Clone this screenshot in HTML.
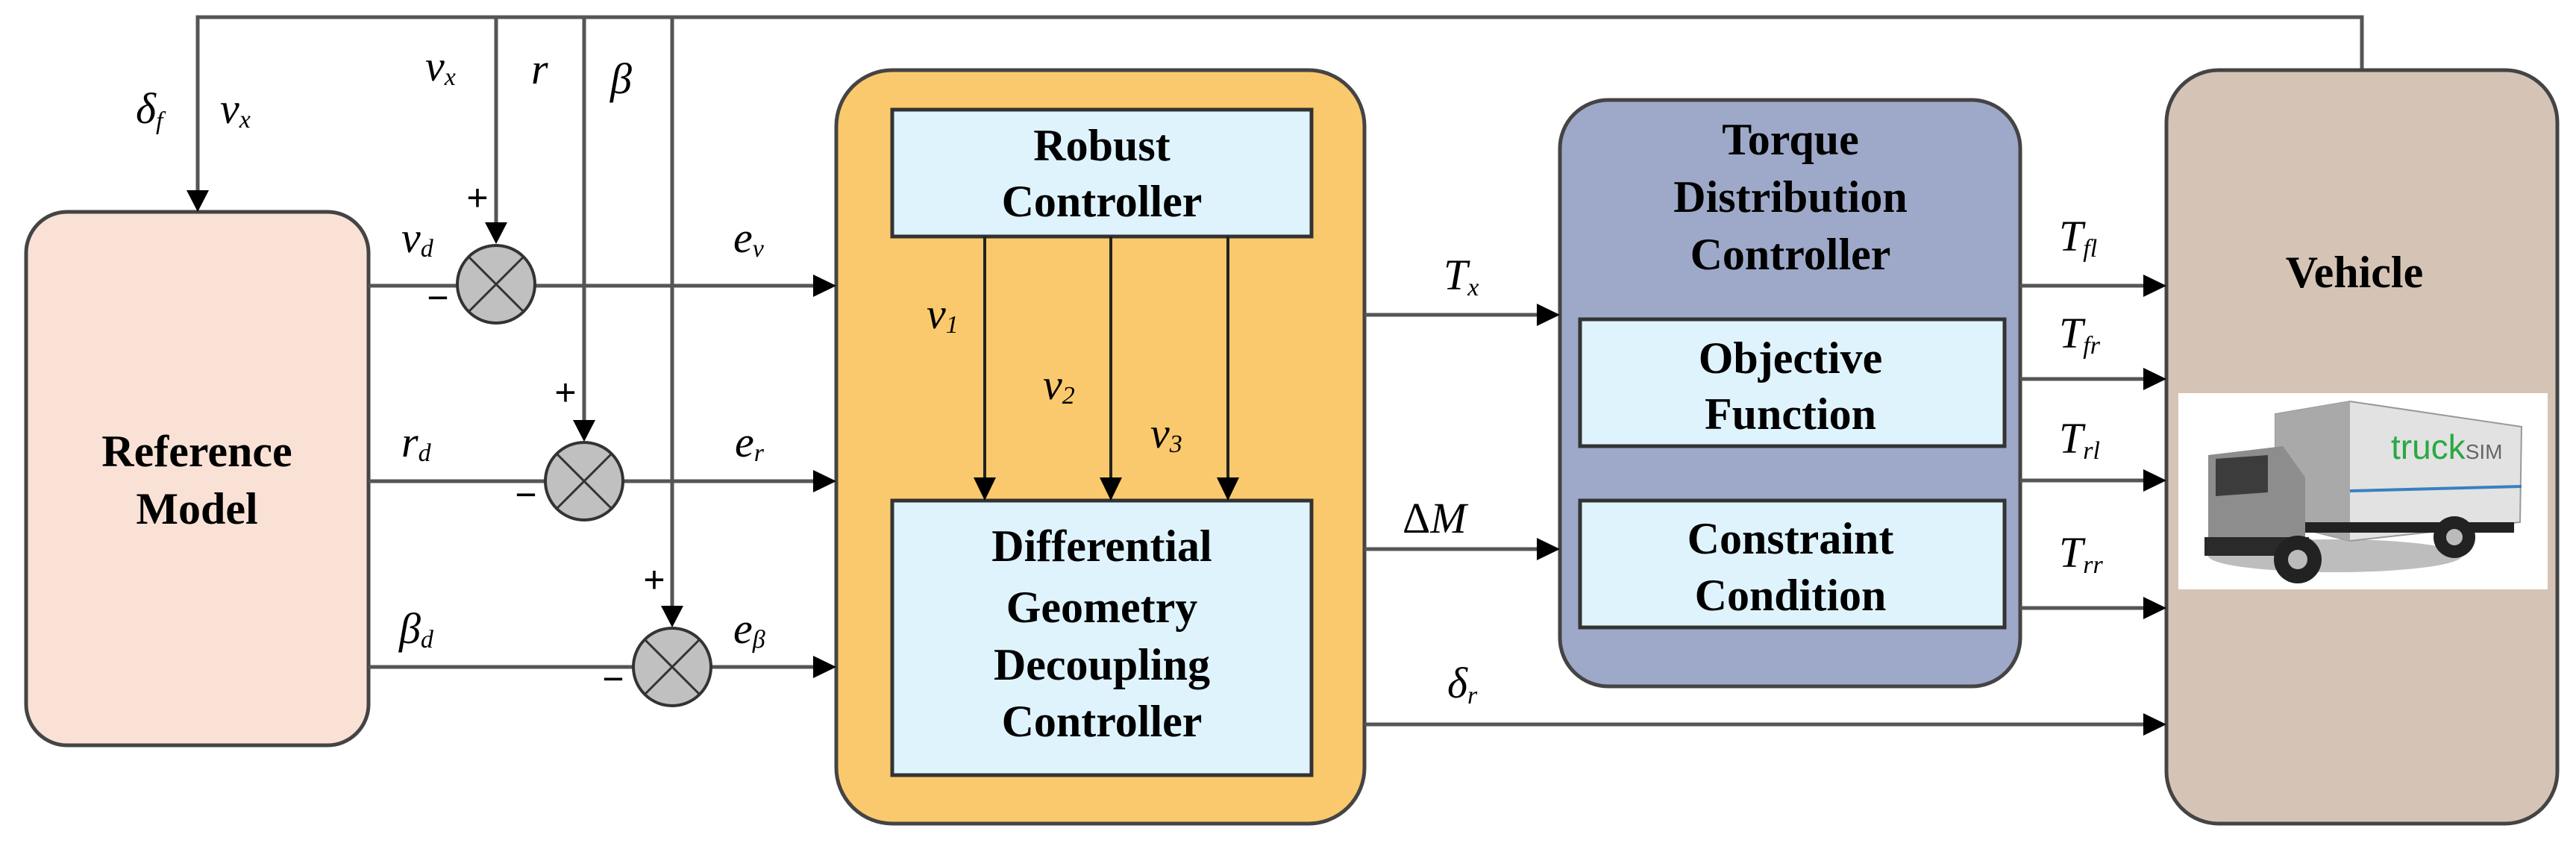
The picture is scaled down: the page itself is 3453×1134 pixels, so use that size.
<!DOCTYPE html>
<html><head><meta charset="utf-8"><style>
html,body{margin:0;padding:0;background:#fff;}
svg{display:block;}
.b{font-family:"Liberation Serif",serif;font-weight:bold;font-size:60px;fill:#000;text-anchor:middle;}
.m{font-family:"Liberation Serif",serif;font-style:italic;font-size:58px;fill:#000;}
.s{font-size:34px;}
.pm{font-family:"Liberation Sans",sans-serif;font-size:50px;fill:#000;}
</style></head><body>
<svg width="3453" height="1134" viewBox="0 0 3453 1134" xmlns="http://www.w3.org/2000/svg">
<defs>
<marker id="a" markerWidth="12" markerHeight="12" refX="11" refY="6" orient="auto" markerUnits="userSpaceOnUse" viewBox="0 0 12 12">
</marker>
</defs>
<g stroke="#555" stroke-width="5" fill="none">
<!-- top feedback line -->
<polyline points="265,270 265,23 3166,23 3166,94"/>
<line x1="665" y1="23" x2="665" y2="300"/>
<line x1="783" y1="23" x2="783" y2="565"/>
<line x1="901" y1="23" x2="901" y2="814"/>
</g>
<!-- boxes -->
<rect x="35" y="284" width="459" height="715" rx="55" fill="#fae1d6" stroke="#444" stroke-width="5"/>
<rect x="1121" y="94" width="708" height="1010" rx="75" fill="#fbc96d" stroke="#444" stroke-width="5"/>
<rect x="1196" y="147" width="562" height="170" fill="#dff3fc" stroke="#333" stroke-width="5"/>
<rect x="1196" y="671" width="562" height="368" fill="#dff3fc" stroke="#333" stroke-width="5"/>
<rect x="2091" y="134" width="617" height="786" rx="65" fill="#9ea9c9" stroke="#444" stroke-width="5"/>
<rect x="2118" y="428" width="569" height="170" fill="#dff3fc" stroke="#333" stroke-width="5"/>
<rect x="2118" y="671" width="569" height="170" fill="#dff3fc" stroke="#333" stroke-width="5"/>
<rect x="2904" y="94" width="524" height="1010" rx="70" fill="#d5c4b5" stroke="#444" stroke-width="5"/>

<!-- horizontal signal lines -->
<g stroke="#555" stroke-width="5">
<line x1="494" y1="383" x2="1090" y2="383"/>
<line x1="494" y1="645" x2="1090" y2="645"/>
<line x1="494" y1="894" x2="1090" y2="894"/>
<line x1="1829" y1="422" x2="2060" y2="422"/>
<line x1="1829" y1="736" x2="2060" y2="736"/>
<line x1="1829" y1="971" x2="2873" y2="971"/>
<line x1="2708" y1="383" x2="2873" y2="383"/>
<line x1="2708" y1="508" x2="2873" y2="508"/>
<line x1="2708" y1="644" x2="2873" y2="644"/>
<line x1="2708" y1="815" x2="2873" y2="815"/>
</g>
<g stroke="#222" stroke-width="4">
<line x1="1320" y1="317" x2="1320" y2="640"/>
<line x1="1489" y1="317" x2="1489" y2="640"/>
<line x1="1646" y1="317" x2="1646" y2="640"/>
</g>
<!-- arrowheads -->
<g fill="#000">
<polygon points="250,255 280,255 265,284"/>
<polygon points="650,298 680,298 665,327"/>
<polygon points="768,563 798,563 783,592"/>
<polygon points="886,812 916,812 901,841"/>
<polygon points="1305,640 1335,640 1320,671"/>
<polygon points="1474,640 1504,640 1489,671"/>
<polygon points="1631,640 1661,640 1646,671"/>
<polygon points="1090,368 1090,398 1121,383"/>
<polygon points="1090,630 1090,660 1121,645"/>
<polygon points="1090,879 1090,909 1121,894"/>
<polygon points="2060,407 2060,437 2091,422"/>
<polygon points="2060,721 2060,751 2091,736"/>
<polygon points="2873,368 2873,398 2904,383"/>
<polygon points="2873,493 2873,523 2904,508"/>
<polygon points="2873,629 2873,659 2904,644"/>
<polygon points="2873,800 2873,830 2904,815"/>
<polygon points="2873,956 2873,986 2904,971"/>
</g>
<!-- summing junctions -->
<g stroke="#333" stroke-width="4" fill="#c0c0c0">
<circle cx="665" cy="381" r="52"/>
<circle cx="783" cy="645" r="52"/>
<circle cx="901" cy="894" r="52"/>
</g>
<g stroke="#333" stroke-width="3">
<path d="M628,344 L702,418 M702,344 L628,418"/>
<path d="M746,608 L820,682 M820,608 L746,682"/>
<path d="M864,857 L938,931 M938,857 L864,931"/>
</g>
<!-- plus/minus -->
<g class="pm" text-anchor="middle">
<text x="640" y="282">+</text>
<text x="758" y="543">+</text>
<text x="877" y="794">+</text>
<text x="587" y="416">−</text>
<text x="705" y="680">−</text>
<text x="822" y="927">−</text>
</g>
<!-- box labels -->
<text class="b" x="264" y="625">Reference</text>
<text class="b" x="264" y="702">Model</text>
<text class="b" x="1477" y="215">Robust</text>
<text class="b" x="1477" y="290">Controller</text>
<text class="b" x="1477" y="752">Differential</text>
<text class="b" x="1477" y="834">Geometry</text>
<text class="b" x="1477" y="911">Decoupling</text>
<text class="b" x="1477" y="987">Controller</text>
<text class="b" x="2400" y="207">Torque</text>
<text class="b" x="2400" y="284">Distribution</text>
<text class="b" x="2400" y="361">Controller</text>
<text class="b" x="2400" y="500">Objective</text>
<text class="b" x="2400" y="575">Function</text>
<text class="b" x="2400" y="742">Constraint</text>
<text class="b" x="2400" y="818">Condition</text>
<text class="b" x="3156" y="385">Vehicle</text>
<!-- math labels -->
<text class="m" x="182" y="165">δ<tspan class="s" dy="8">f</tspan></text>
<text class="m" x="295" y="165">v<tspan class="s" dy="6">x</tspan></text>
<text class="m" x="570" y="108">v<tspan class="s" dy="6">x</tspan></text>
<text class="m" x="712" y="112">r</text>
<text class="m" x="818" y="125">β</text>
<text class="m" x="538" y="338">v<tspan class="s" dy="6">d</tspan></text>
<text class="m" x="538" y="612">r<tspan class="s" dy="6">d</tspan></text>
<text class="m" x="535" y="862">β<tspan class="s" dy="6">d</tspan></text>
<text class="m" x="983" y="338">e<tspan class="s" dy="6">v</tspan></text>
<text class="m" x="985" y="612">e<tspan class="s" dy="6">r</tspan></text>
<text class="m" x="983" y="862">e<tspan class="s" dy="6">β</tspan></text>
<text class="m" x="1242" y="440">v<tspan class="s" dy="6">1</tspan></text>
<text class="m" x="1398" y="535">v<tspan class="s" dy="6">2</tspan></text>
<text class="m" x="1542" y="600">v<tspan class="s" dy="6">3</tspan></text>
<text class="m" x="1935" y="388">T<tspan class="s" dy="8">x</tspan></text>
<text class="m" x="1880" y="714"><tspan font-style="normal">Δ</tspan>M</text>
<text class="m" x="1940" y="935">δ<tspan class="s" dy="8">r</tspan></text>
<text class="m" x="2760" y="336">T<tspan class="s" dy="8">fl</tspan></text>
<text class="m" x="2760" y="466">T<tspan class="s" dy="8">fr</tspan></text>
<text class="m" x="2760" y="607">T<tspan class="s" dy="8">rl</tspan></text>
<text class="m" x="2760" y="760">T<tspan class="s" dy="8">rr</tspan></text>
<!-- truck picture -->
<rect x="2920" y="527" width="495" height="263" fill="#fff"/>
<g>
<ellipse cx="3130" cy="745" rx="170" ry="22" fill="#bdbdbd"/>
<polygon points="3050,555 3150,538 3380,572 3378,700 3150,725 3050,700" fill="#e2e2e2" stroke="#999" stroke-width="2"/>
<polygon points="3050,555 3150,538 3150,725 3050,700" fill="#a9a9a9"/>
<line x1="3150" y1="658" x2="3380" y2="652" stroke="#3a7fc2" stroke-width="4"/>
<text x="3205" y="615" font-family="Liberation Sans,sans-serif" font-size="46" fill="#2aa845">truck<tspan font-size="28" fill="#666">SIM</tspan></text>
<polygon points="2960,610 3060,598 3090,640 3090,725 2960,730" fill="#8d8d8d"/>
<polygon points="2970,615 3040,610 3040,660 2970,665" fill="#3c3c3c"/>
<rect x="2955" y="720" width="140" height="25" fill="#2a2a2a"/>
<rect x="3090" y="700" width="280" height="14" fill="#222"/>
<circle cx="3080" cy="750" r="32" fill="#222"/>
<circle cx="3080" cy="750" r="13" fill="#bbb"/>
<circle cx="3290" cy="720" r="28" fill="#222"/>
<circle cx="3290" cy="720" r="11" fill="#bbb"/>
</g>
</svg>
</body></html>
